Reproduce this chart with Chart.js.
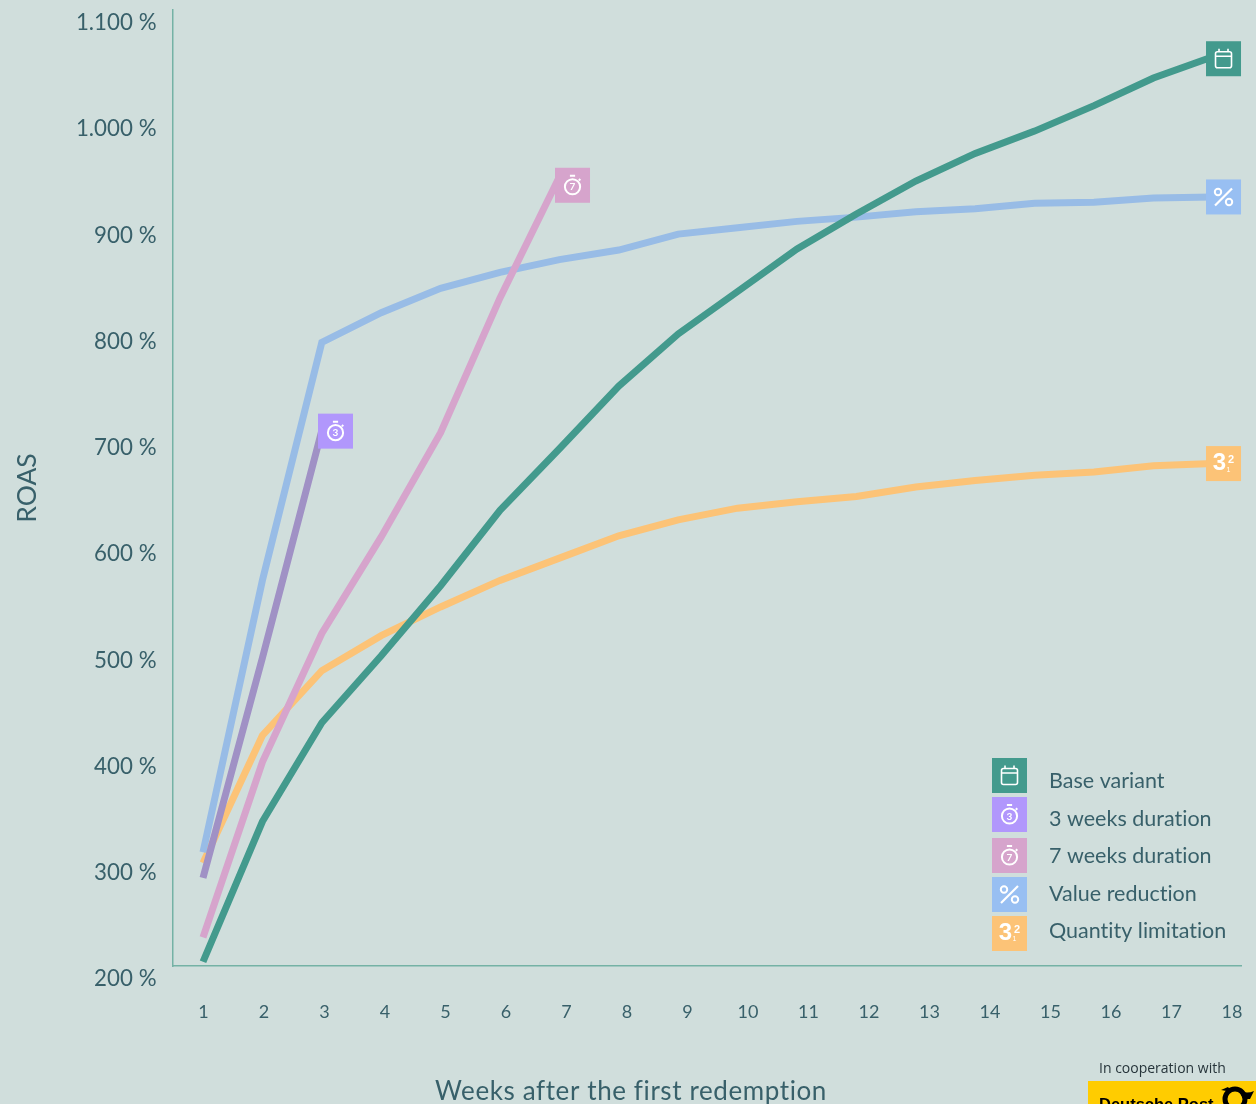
<!DOCTYPE html>
<html>
<head>
<meta charset="utf-8">
<title>ROAS</title>
<script src="https://cdn.jsdelivr.net/npm/chart.js@4"></script>
<style>
    body { margin: 0; background: #d0dedc; overflow: hidden; }
    canvas { display: block; }
</style>
</head>
<body>
<canvas id="roasChart" width="1256" height="1104"></canvas>
<script>
var weeks = [1, 2, 3, 4, 5, 6, 7, 8, 9, 10, 11, 12, 13, 14, 15, 16, 17, 18];
var yTicks = [200, 300, 400, 500, 600, 700, 800, 900, 1000, 1100];

var baseVariant = [204, 336, 429, 492, 558, 629, 687, 746, 795, 835, 875, 908, 939, 965, 986, 1010, 1036, 1056];
var threeWeeks = [283, 490, 704];
var sevenWeeks = [227, 392, 513, 604, 702, 829, 943];
var valueReduction = [307, 563, 787, 815, 838, 853, 865, 874, 889, 895, 901, 905, 910, 913, 918, 919, 923, 924];
var quantityLimitation = [297, 417, 478, 511, 538, 563, 584, 605, 620, 631, 637, 642, 651, 657, 662, 665, 671, 673];

var textColor = '#38606a';
var fontName = 'Lato, "Noto Sans", sans-serif';

function toPoints(values) {
    return values.map(function (v, i) { return { x: weeks[i], y: v }; });
}

function makeDataset(label, values, lineColor, boxColor, icon, offset) {
    return {
        label: label,
        data: toPoints(values),
        xAxisID: 'xData',
        borderColor: lineColor,
        backgroundColor: lineColor,
        borderWidth: 7,
        borderCapStyle: 'butt',
        borderJoinStyle: 'miter',
        tension: 0,
        pointRadius: 0,
        pointHoverRadius: 0,
        boxColor: boxColor,
        icon: icon,
        boxOffset: offset
    };
}

// small white pictograms inside the coloured squares
function drawIcon(ctx, icon, cx, cy) {
    ctx.save();
    ctx.strokeStyle = '#fff';
    ctx.fillStyle = '#fff';
    ctx.lineWidth = 1.6;
    if (icon === 'calendar') {
        ctx.beginPath();
        ctx.roundRect(cx - 8, cy - 7, 16, 16, 2);
        ctx.moveTo(cx - 8, cy - 2.5);
        ctx.lineTo(cx + 8, cy - 2.5);
        ctx.moveTo(cx - 4.5, cy - 10);
        ctx.lineTo(cx - 4.5, cy - 7);
        ctx.moveTo(cx + 4.5, cy - 10);
        ctx.lineTo(cx + 4.5, cy - 7);
        ctx.stroke();
    } else if (icon === 'percent') {
        ctx.lineWidth = 2;
        ctx.beginPath();
        ctx.arc(cx - 5.5, cy - 5, 3.2, 0, Math.PI * 2);
        ctx.stroke();
        ctx.beginPath();
        ctx.arc(cx + 5.5, cy + 5, 3.2, 0, Math.PI * 2);
        ctx.stroke();
        ctx.lineWidth = 2.2;
        ctx.beginPath();
        ctx.moveTo(cx + 8.5, cy - 8.5);
        ctx.lineTo(cx - 8.5, cy + 8.5);
        ctx.stroke();
    } else if (icon === 'quantity') {
        ctx.textAlign = 'center';
        ctx.textBaseline = 'middle';
        ctx.font = 'bold 24px "Liberation Sans", sans-serif';
        ctx.fillText('3', cx - 4, cy);
        ctx.font = 'bold 11px "Liberation Sans", sans-serif';
        ctx.fillText('2', cx + 7.5, cy - 3.5);
        ctx.font = '7px "Liberation Sans", sans-serif';
        ctx.fillText('1', cx + 5, cy + 6);
    } else {
        // stopwatch with the number of weeks in its face
        ctx.lineWidth = 2;
        ctx.beginPath();
        ctx.arc(cx, cy + 1.5, 7.6, 0, Math.PI * 2);
        ctx.moveTo(cx - 2.6, cy - 9.5);
        ctx.lineTo(cx + 2.6, cy - 9.5);
        ctx.moveTo(cx + 6.4, cy - 6.2);
        ctx.lineTo(cx + 7.8, cy - 4.8);
        ctx.stroke();
        ctx.textAlign = 'center';
        ctx.textBaseline = 'middle';
        ctx.font = 'bold 10px ' + fontName;
        ctx.fillText(icon, cx, cy + 2);
    }
    ctx.restore();
}

function drawBox(ctx, ds, cx, cy) {
    ctx.fillStyle = ds.boxColor;
    ctx.fillRect(cx - 17.5, cy - 17.5, 35, 35);
    drawIcon(ctx, ds.icon, cx, cy);
}

// square badge at the end of every line
var endBoxes = {
    id: 'endBoxes',
    afterDatasetsDraw: function (chart) {
        chart.data.datasets.forEach(function (ds, i) {
            var pts = chart.getDatasetMeta(i).data;
            var last = pts[pts.length - 1];
            drawBox(chart.ctx, ds, last.x + ds.boxOffset[0], last.y + ds.boxOffset[1]);
        });
    }
};

var legendRows = [775.5, 814.5, 855.5, 894.5, 933.5];
var legendText = [781, 819, 856, 894, 931];

var sideTexts = {
    id: 'sideTexts',
    afterDraw: function (chart) {
        var ctx = chart.ctx;
        ctx.save();
        chart.data.datasets.forEach(function (ds, i) {
            drawBox(ctx, ds, 1009.5, legendRows[i]);
            ctx.fillStyle = textColor;
            ctx.font = '21.5px ' + fontName;
            ctx.letterSpacing = '0.01px'; // keeps the "ti" pairs unligated
            ctx.textAlign = 'left';
            ctx.textBaseline = 'middle';
            ctx.fillText(ds.label, 1049, legendText[i]);
        });

        ctx.fillStyle = textColor;
        ctx.font = '26px ' + fontName;
        ctx.letterSpacing = '0.6px';
        ctx.textAlign = 'center';
        ctx.textBaseline = 'middle';
        ctx.fillText('Weeks after the first redemption', 631, 1091.5);
        ctx.letterSpacing = '0px';

        ctx.fillStyle = '#26343a';
        ctx.font = '14px "Open Sans", sans-serif';
        ctx.textAlign = 'left';
        ctx.fillText('In cooperation with', 1099, 1069);

        // partner logo, cut off by the page edge
        ctx.fillStyle = '#ffcc00';
        ctx.fillRect(1088, 1081, 168, 23);
        ctx.fillStyle = '#000';
        ctx.font = 'bold 16.5px "Liberation Sans", sans-serif';
        ctx.textBaseline = 'alphabetic';
        ctx.fillText('Deutsche Post', 1099, 1110);
        ctx.strokeStyle = '#000';
        ctx.lineWidth = 5;
        ctx.beginPath();
        ctx.arc(1235, 1099, 10, 0, Math.PI * 2);
        ctx.stroke();
        ctx.beginPath();
        ctx.moveTo(1221, 1090);
        ctx.lineTo(1228, 1087);
        ctx.lineTo(1232, 1092);
        ctx.closePath();
        ctx.fill();
        ctx.beginPath();
        ctx.moveTo(1238, 1089);
        ctx.quadraticCurveTo(1245, 1095, 1254, 1091);
        ctx.lineTo(1250, 1099);
        ctx.lineTo(1243, 1099);
        ctx.closePath();
        ctx.fill();
        ctx.restore();
    }
};

// the plot box is fixed, so label overhang must not shrink it
function noMargins(axis) {
    axis.paddingLeft = 0;
    axis.paddingRight = 0;
    axis.paddingTop = 0;
    axis.paddingBottom = 0;
}

var ctx = document.getElementById('roasChart');
var myChart = new Chart(ctx, {
    type: 'line',
    data: {
        datasets: [
            makeDataset('Base variant', baseVariant, '#439a8d', '#439a8d', 'calendar', [10.7, 2]),
            makeDataset('3 weeks duration', threeWeeks, '#a091c5', '#b197fc', '3', [13.7, 0.5]),
            makeDataset('7 weeks duration', sevenWeeks, '#d6a4cc', '#d6a4cc', '7', [13.1, 8.5]),
            makeDataset('Value reduction', valueReduction, '#98bce6', '#98bff2', 'percent', [10.7, 0]),
            makeDataset('Quantity limitation', quantityLimitation, '#fcc377', '#fcc377', 'quantity', [10.7, 0])
        ]
    },
    options: {
        responsive: false,
        animation: false,
        events: [],
        layout: { padding: { top: 10, right: 15, bottom: 0, left: 0 } },
        plugins: {
            legend: { display: false },
            tooltip: { enabled: false }
        },
        scales: {
            // lines run on this one, slightly tighter than the printed week numbers
            xData: {
                type: 'linear',
                display: false,
                min: 0.4865,
                max: 18.4745
            },
            x: {
                type: 'linear',
                position: 'bottom',
                min: 0.4876,
                max: 18.149,
                grid: { display: false },
                border: { color: '#74b2a5', width: 1.5 },
                afterBuildTicks: function (axis) {
                    axis.ticks = weeks.map(function (w) { return { value: w }; });
                },
                afterFit: function (axis) {
                    axis.height = 138;
                    noMargins(axis);
                },
                ticks: {
                    autoSkip: false,
                    maxRotation: 0,
                    padding: 27,
                    color: textColor,
                    font: { family: fontName, size: 18 },
                    callback: function (v) { return String(v); }
                }
            },
            y: {
                min: 200,
                max: 1100,
                grid: { display: false },
                border: { color: '#74b2a5', width: 1.5 },
                afterBuildTicks: function (axis) {
                    axis.ticks = yTicks.map(function (v) { return { value: v }; });
                },
                afterFit: function (axis) {
                    axis.width = 172.5;
                    noMargins(axis);
                },
                title: {
                    display: true,
                    text: 'ROAS',
                    color: textColor,
                    font: { family: fontName, size: 26.5 },
                    padding: { top: 12, bottom: 0 }
                },
                ticks: {
                    autoSkip: false,
                    padding: 8,
                    labelOffset: 13,
                    color: textColor,
                    font: { family: fontName, size: 22.3 },
                    callback: function (v) {
                        // dot as thousands separator
                        return String(v).replace(/\B(?=(\d{3})+$)/, '.') + ' %';
                    }
                }
            }
        }
    },
    plugins: [endBoxes, sideTexts]
});
</script>
</body>
</html>
